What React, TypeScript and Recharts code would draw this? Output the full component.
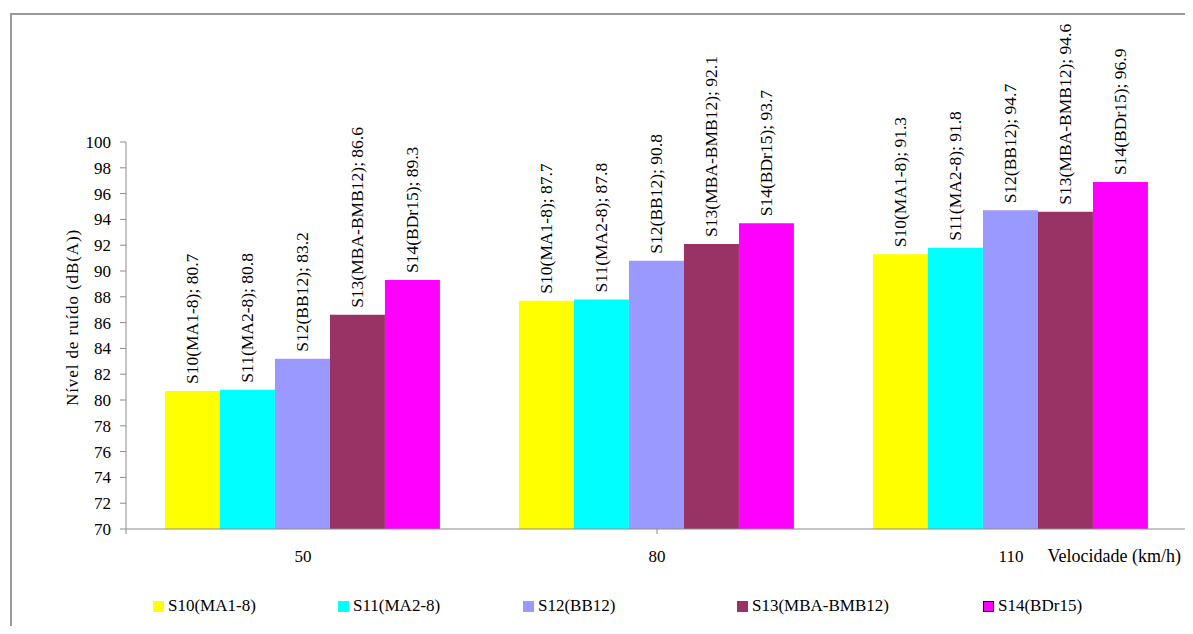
import React from 'react';
import { BarChart, Bar, XAxis, YAxis, Legend, LabelList, Label } from 'recharts';

// Velocidade (km/h)
const speeds = ['50', '80', '110'];

// Nível de ruído, dB(A), por superfície
const s10 = [80.7, 87.7, 91.3];
const s11 = [80.8, 87.8, 91.8];
const s12 = [83.2, 90.8, 94.7];
const s13 = [86.6, 92.1, 94.6];
const s14 = [89.3, 93.7, 96.9];

const seriesNames = ['S10(MA1-8)', 'S11(MA2-8)', 'S12(BB12)', 'S13(MBA-BMB12)', 'S14(BDr15)'];
const seriesKeys = ['s10', 's11', 's12', 's13', 's14'];
const seriesColors = ['#FFFF00', '#00FFFF', '#9999FF', '#993366', '#FF00FF'];

const yTicks = [70, 72, 74, 76, 78, 80, 82, 84, 86, 88, 90, 92, 94, 96, 98, 100];
// category boundaries, for the tick marks between groups
const edgeTicks = [0, 1, 2, 3];

const data = speeds.map((speed, i) => ({
  speed,
  s10: s10[i],
  s11: s11[i],
  s12: s12[i],
  s13: s13[i],
  s14: s14[i],
}));

const FONT = '"Liberation Serif", "Times New Roman", Times, serif';
const AXIS = '#8c8c8c';

const makeBarLabel = (name: string) => (props: any) => {
  const { x, y, width, value } = props;
  const cx = Number(x) + Number(width) / 2;
  const ty = Number(y) - 7;
  return (
    <text
      x={cx}
      y={ty}
      transform={`rotate(-90, ${cx}, ${ty})`}
      textAnchor="start"
      dominantBaseline="central"
      fontFamily={FONT}
      fontSize={17.5}
      fill="#000"
    >
      {`${name}; ${value}`}
    </text>
  );
};

const legendLefts = [145, 330, 515, 729, 975];

const LegendContent = () => (
  <div style={{ position: 'relative', width: 1185, height: 20 }}>
    {seriesNames.map((name, i) => (
      <div
        key={name}
        style={{
          position: 'absolute',
          left: legendLefts[i],
          top: 0,
          height: 20,
          display: 'flex',
          alignItems: 'center',
          fontFamily: FONT,
          fontSize: 17,
          color: '#000',
          whiteSpace: 'nowrap',
        }}
      >
        <span
          style={{
            display: 'inline-block',
            width: 11,
            height: 11,
            marginRight: 4,
            background: seriesColors[i],
            boxSizing: 'border-box',
            border: i === 4 ? '1.5px solid #000' : 'none',
          }}
        />
        {name}
      </div>
    ))}
  </div>
);

const NoTick = () => <g />;

export default function App() {
  return (
    <div style={{ position: 'relative', width: 1185, height: 618, overflow: 'hidden', background: '#fff' }}>
      <div
        style={{
          position: 'absolute',
          left: 2,
          top: 5,
          width: 1400,
          height: 900,
          border: '2px solid #9a9a9a',
          boxSizing: 'border-box',
        }}
      />
      <div style={{ position: 'absolute', left: 0, top: 0 }}>
        <BarChart
          width={1185}
          height={618}
          data={data}
          margin={{ top: 134, right: 5, bottom: 56, left: 0 }}
          barCategoryGap="11%"
          barGap={0}
        >
          <XAxis
            xAxisId="a"
            type="number"
            domain={[0, 3]}
            ticks={edgeTicks}
            allowDataOverflow
            tick={NoTick}
            tickSize={5}
            height={1}
            stroke={AXIS}
          />
          <XAxis
            xAxisId="b"
            dataKey="speed"
            axisLine={false}
            tickLine={false}
            tickSize={0}
            tickMargin={20}
            height={40}
            tick={{ fontFamily: FONT, fontSize: 17, fill: '#000' }}
          >
            <Label
              content={(p: any) => {
                const vb = p.viewBox || {};
                return (
                  <text
                    x={vb.x + vb.width - 7}
                    y={vb.y + 32}
                    textAnchor="end"
                    fontFamily={FONT}
                    fontSize={18}
                    fill="#000"
                  >
                    Velocidade (km/h)
                  </text>
                );
              }}
            />
          </XAxis>
          <YAxis
            width={118}
            domain={[70, 100]}
            ticks={yTicks}
            interval={0}
            tickSize={6}
            tickMargin={9}
            stroke={AXIS}
            tick={{ fontFamily: FONT, fontSize: 17, fill: '#000' }}
          >
            <Label
              content={(p: any) => {
                const vb = p.viewBox || {};
                const cx = vb.x + 64;
                const cy = vb.y + vb.height / 2 - 18;
                return (
                  <text
                    x={cx}
                    y={cy}
                    transform={`rotate(-90, ${cx}, ${cy})`}
                    textAnchor="middle"
                    dominantBaseline="central"
                    fontFamily={FONT}
                    fontSize={17}
                    letterSpacing={0.9}
                    fill="#000"
                  >
                    Nível de ruído (dB(A))
                  </text>
                );
              }}
            />
          </YAxis>
          <Legend
            verticalAlign="middle"
            align="center"
            layout="horizontal"
            content={<LegendContent />}
            wrapperStyle={{ top: 588, left: 0, width: 1185, height: 20 }}
          />
          {seriesKeys.map((key, i) => (
            <Bar
              key={key}
              xAxisId="b"
              dataKey={key}
              name={seriesNames[i]}
              fill={seriesColors[i]}
              isAnimationActive={false}
            >
              <LabelList dataKey={key} content={makeBarLabel(seriesNames[i])} />
            </Bar>
          ))}
        </BarChart>
      </div>
    </div>
  );
}
